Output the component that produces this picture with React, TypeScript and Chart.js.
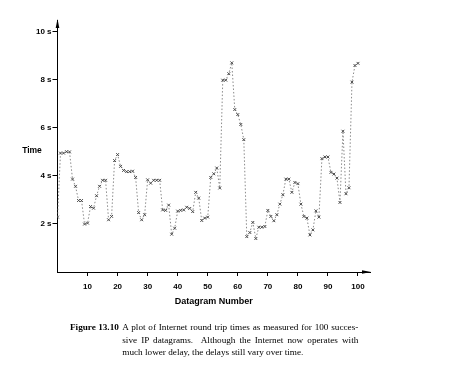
import React, { useEffect, useRef } from "react";
import { Chart, registerables } from "chart.js";

Chart.register(...registerables);

const datagrams: number[] = Array.from({ length: 101 }, (_, i) => i);
const rttSeconds: number[] = [
  2.28, 4.94, 4.94, 5.0, 4.99, 3.86, 3.56, 2.97, 2.97, 1.99,
  2.03, 2.72, 2.65, 3.17, 3.56, 3.81, 3.81, 2.17, 2.31, 4.63,
  4.88, 4.39, 4.22, 4.17, 4.17, 4.19, 3.93, 2.47, 2.17, 2.38,
  3.83, 3.69, 3.81, 3.81, 3.81, 2.58, 2.56, 2.78, 1.57, 1.82,
  2.53, 2.56, 2.58, 2.69, 2.64, 2.51, 3.31, 3.07, 2.14, 2.24,
  2.28, 3.93, 4.08, 4.32, 3.49, 7.97, 7.97, 8.24, 8.69, 6.75,
  6.54, 6.13, 5.5, 1.47, 1.64, 2.06, 1.39, 1.86, 1.86, 1.89,
  2.56, 2.31, 2.13, 2.38, 2.82, 3.21, 3.86, 3.86, 3.31, 3.72,
  3.67, 2.82, 2.31, 2.24, 1.54, 1.75, 2.54, 2.28, 4.71, 4.78,
  4.78, 4.14, 4.07, 3.9, 2.89, 5.85, 3.25, 3.5, 7.89, 8.58,
  8.67,
];
const xTickValues: number[] = [10, 20, 30, 40, 50, 60, 70, 80, 90, 100];
const yTickValues: number[] = [2, 4, 6, 8, 10];

const SANS = "'Liberation Sans', Arial, sans-serif";
const SERIF = "'Liberation Serif', 'Times New Roman', serif";

const axisDecor = {
  id: "axisDecor",
  afterDraw(chart: any) {
    const ctx = chart.ctx;
    const a = chart.chartArea;
    ctx.save();
    ctx.fillStyle = "#000";
    ctx.beginPath();
    ctx.moveTo(a.left, a.top - 1);
    ctx.lineTo(a.left - 1.8, a.top + 8);
    ctx.lineTo(a.left + 1.8, a.top + 8);
    ctx.closePath();
    ctx.fill();
    ctx.beginPath();
    ctx.moveTo(a.right + 1, a.bottom);
    ctx.lineTo(a.right - 8, a.bottom - 1.8);
    ctx.lineTo(a.right - 8, a.bottom + 1.8);
    ctx.closePath();
    ctx.fill();
    ctx.font = "bold 8.5px " + SANS;
    ctx.textAlign = "center";
    ctx.textBaseline = "middle";
    ctx.fillText("Time", 32, 151);
    ctx.restore();
  },
};

export default function App() {
  const ref = useRef<HTMLCanvasElement | null>(null);

  useEffect(() => {
    if (!ref.current) return;
    const chart = new Chart(ref.current, {
      type: "line",
      data: {
        labels: datagrams,
        datasets: [
          {
            data: datagrams.map((x, i) => ({ x, y: rttSeconds[i] })),
            borderColor: "#8a8a8a",
            borderWidth: 1,
            borderDash: [1.5, 2],
            pointStyle: "crossRot",
            pointRadius: 2,
            pointBorderColor: "#4a4a4a",
            pointBorderWidth: 1,
            pointBackgroundColor: "#4a4a4a",
            tension: 0,
            fill: false,
          },
        ],
      },
      options: {
        animation: false,
        responsive: false,
        devicePixelRatio: 1,
        layout: { padding: { left: 0, right: 79, top: 20, bottom: 80 } },
        plugins: { legend: { display: false }, tooltip: { enabled: false } },
        scales: {
          x: {
            type: "linear",
            min: 0,
            max: 104,
            afterBuildTicks: (s: any) => {
              s.ticks = xTickValues.map((v) => ({ value: v }));
            },
            afterFit: (s: any) => {
              s.height = 35;
            },
            grid: {
              drawOnChartArea: false,
              drawTicks: true,
              tickLength: 4,
              tickColor: "#000",
            },
            border: { display: true, color: "#000", width: 1 },
            ticks: {
              color: "#000",
              font: { family: SANS, size: 8, weight: "bold" },
              padding: 6,
              maxRotation: 0,
              autoSkip: false,
            },
            title: {
              display: true,
              text: "Datagram Number",
              color: "#000",
              font: { family: SANS, size: 9, weight: "bold" },
              padding: { top: 0, bottom: 0 },
            },
          },
          y: {
            type: "linear",
            min: 0,
            max: 10.47,
            afterBuildTicks: (s: any) => {
              s.ticks = yTickValues.map((v) => ({ value: v }));
            },
            afterFit: (s: any) => {
              s.width = 57.5;
            },
            grid: {
              drawOnChartArea: false,
              drawTicks: true,
              tickLength: 5,
              tickColor: "#000",
            },
            border: { display: true, color: "#000", width: 1 },
            ticks: {
              color: "#000",
              font: { family: SANS, size: 8, weight: "bold" },
              padding: 1,
              callback: (v: any) => v + " s",
            },
          },
        },
      },
      plugins: [axisDecor],
    } as any);
    return () => chart.destroy();
  }, []);

  const lineStyle: React.CSSProperties = { textAlignLast: "justify", textAlign: "justify", whiteSpace: "nowrap" };

  return (
    <div style={{ position: "absolute", left: 0, top: 0, width: 449, height: 387, background: "#fff" }}>
      <canvas ref={ref} width={449} height={387} style={{ position: "absolute", left: 0, top: 0, width: 449, height: 387 }} />
      <div
        style={{
          position: "absolute",
          left: 70,
          top: 321,
          display: "flex",
          fontFamily: SERIF,
          fontSize: 9.2,
          lineHeight: "12.5px",
          color: "#000",
        }}
      >
        <div style={{ width: 52.3, fontWeight: "bold", whiteSpace: "nowrap" }}>Figure 13.10</div>
        <div style={{ width: 236 }}>
          <div style={lineStyle}>A plot of Internet round trip times as measured for 100 succes-</div>
          <div style={lineStyle}>sive IP datagrams.&nbsp; Although the Internet now operates with</div>
          <div style={{ textAlign: "left", whiteSpace: "nowrap" }}>much lower delay, the delays still vary over time.</div>
        </div>
      </div>
    </div>
  );
}
